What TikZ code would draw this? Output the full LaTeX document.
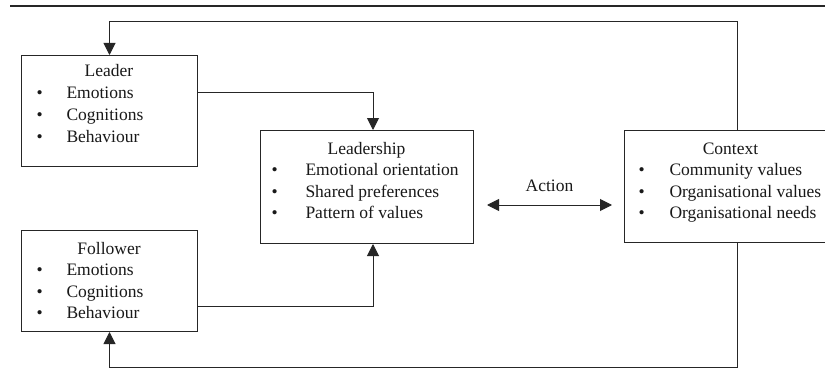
\documentclass[tikz,border=0pt]{standalone}
\usepackage{fontspec}
\setmainfont{Liberation Serif}
\usetikzlibrary{arrows.meta}
\begin{document}
\begin{tikzpicture}[x=1pt,y=-1pt,
  line width=1pt,
  boxstyle/.style={draw=black!85,rectangle,inner sep=0pt,anchor=north west},
  txt/.style={inner sep=0pt,anchor=base west,font=\fontsize{17.5}{21}\selectfont,text=black!90},
  ttl/.style={inner sep=0pt,anchor=base,font=\fontsize{17.5}{21}\selectfont,text=black!90},
  arr/.style={draw=black!85,-{Triangle[length=12pt,width=12pt]}},
  darr/.style={draw=black!85,{Triangle[length=12pt,width=12pt]}-{Triangle[length=12pt,width=12pt]}}]
\clip (0,0) rectangle (825,369);
\fill[white] (0,0) rectangle (825,369);
% top rule
\coordinate (r1) at (10,6);
\coordinate (r2) at (826,6);
\draw[line width=2.4pt,black!85] (r1) -- (r2);
% boxes
\node[boxstyle,minimum width=176pt,minimum height=111pt] (leader) at (21,55) {};
\node[boxstyle,minimum width=176pt,minimum height=101pt] (follower) at (21,230) {};
\node[boxstyle,minimum width=213pt,minimum height=113pt] (leadership) at (260,130) {};
\node[boxstyle,minimum width=213pt,minimum height=112pt] (ctx) at (624,130) {};
% Leader text
\node[ttl] (lt) at (109,77) {Leader};
\node[txt] (lb1) at (36,99) {•}; \node[txt] (ll1) at (66,99) {Emotions};
\node[txt] (lb2) at (36,120.5) {•}; \node[txt] (ll2) at (66,120.5) {Cognitions};
\node[txt] (lb3) at (36,142) {•}; \node[txt] (ll3) at (66,142) {Behaviour};
% Follower text
\node[ttl] (ft) at (109,254) {Follower};
\node[txt] (fb1) at (36,275.5) {•}; \node[txt] (fl1) at (66,275.5) {Emotions};
\node[txt] (fb2) at (36,297) {•}; \node[txt] (fl2) at (66,297) {Cognitions};
\node[txt] (fb3) at (36,318.5) {•}; \node[txt] (fl3) at (66,318.5) {Behaviour};
% Leadership text
\node[ttl] (st) at (366.5,154) {Leadership};
\node[txt] (sb1) at (271,175.5) {•}; \node[txt] (sl1) at (305,175.5) {Emotional orientation};
\node[txt] (sb2) at (271,197) {•}; \node[txt] (sl2) at (305,197) {Shared preferences};
\node[txt] (sb3) at (271,218.5) {•}; \node[txt] (sl3) at (305,218.5) {Pattern of values};
% Context text
\node[ttl] (ct) at (730.5,154) {Context};
\node[txt] (cb1) at (638,175.5) {•}; \node[txt] (cl1) at (669,175.5) {Community values};
\node[txt] (cb2) at (638,197) {•}; \node[txt] (cl2) at (669,197) {Organisational values};
\node[txt] (cb3) at (638,218.5) {•}; \node[txt] (cl3) at (669,218.5) {Organisational needs};
% Action
\node[ttl] (act) at (549.5,191) {Action};
\coordinate (a1) at (487,205);
\coordinate (a2) at (612,205);
\draw[darr] (a1) -- (a2);
% connectors
\coordinate (j1) at (373,93);
\coordinate (j2) at (373,306);
\draw[arr] (leader.east |- j1) -- (j1) -- (j1 |- leadership.north);
\draw[arr] (follower.east |- j2) -- (j2) -- (j2 |- leadership.south);
\coordinate (c1) at (737,22);
\coordinate (c2) at (737,367.5);
\draw[arr] (ctx.north -| c1) -- (c1) -| (leader.north);
\draw[arr] (ctx.south -| c2) -- (c2) -| (follower.south);
\end{tikzpicture}
\end{document}
